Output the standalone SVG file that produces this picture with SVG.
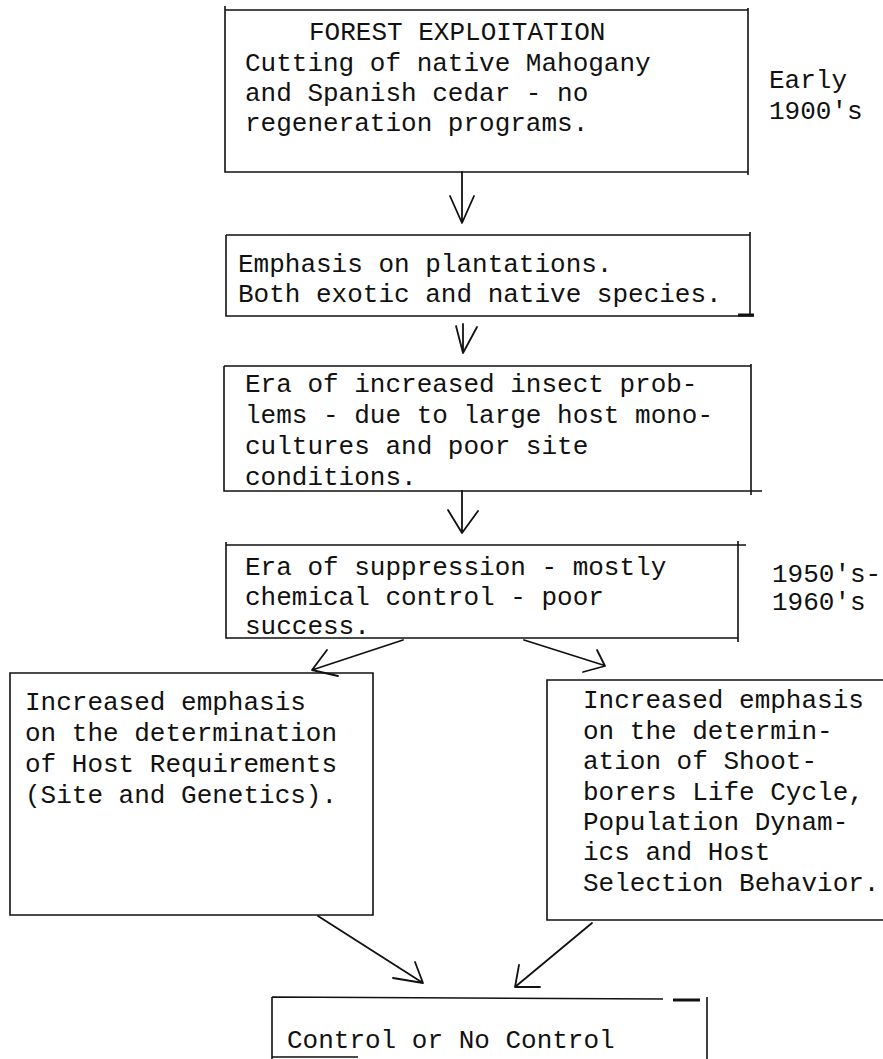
<svg xmlns="http://www.w3.org/2000/svg" width="883" height="1059" viewBox="0 0 883 1059">
  <style>
    .box { fill: none; stroke: #111; stroke-width: 1.6; }
    .txt { font-family: "Liberation Mono", "Courier New", monospace; font-size: 26px; fill: #111; }
    .conn { fill: none; stroke: #111; stroke-width: 1.8; stroke-linecap: round; stroke-linejoin: round; }
  </style>
  <rect width="883" height="1059" fill="#fff"/>

  <!-- flow nodes -->
  <g id="forest-exploitation">
    <path class="box" d="M225,10 L748,10 M225,6 L225,172 L748,172 M748,8 L748,175"/>
    <text class="txt" x="309" y="40">FOREST EXPLOITATION</text>
    <text class="txt" x="245" y="71">Cutting of native Mahogany</text>
    <text class="txt" x="245" y="101">and Spanish cedar - no</text>
    <text class="txt" x="245" y="131">regeneration programs.</text>
  </g>

  <g id="early-1900s">
    <text class="txt" x="769" y="88">Early</text>
    <text class="txt" x="769" y="119">1900's</text>
  </g>

  <g id="plantations">
    <path class="box" d="M226,235 L750,235 M226,235 L226,316 L754,316 M750,232 L750,316"/>
    <path d="M738,315 L754,315" stroke="#111" stroke-width="3"/>
    <text class="txt" x="238" y="272">Emphasis on plantations.</text>
    <text class="txt" x="238" y="302">Both exotic and native species.</text>
  </g>

  <g id="insect-problems">
    <path class="box" d="M224,366 L751,366 M224,366 L224,491 L762,491 M751,364 L751,495"/>
    <text class="txt" x="245" y="392">Era of increased insect prob-</text>
    <text class="txt" x="245" y="423">lems - due to large host mono-</text>
    <text class="txt" x="245" y="454">cultures and poor site</text>
    <text class="txt" x="245" y="485">conditions.</text>
  </g>

  <g id="suppression">
    <path class="box" d="M226,545 L746,545 M226,542 L226,638 L738,638 M738,541 L738,642"/>
    <text class="txt" x="245" y="575">Era of suppression - mostly</text>
    <text class="txt" x="245" y="605">chemical control - poor</text>
    <text class="txt" x="245" y="634">success.</text>
  </g>

  <g id="years-1950s-1960s">
    <text class="txt" x="772" y="582">1950's-</text>
    <text class="txt" x="772" y="610">1960's</text>
  </g>

  <g id="host-requirements">
    <path class="box" d="M10,673 L373,673 L373,915 L10,915 Z"/>
    <text class="txt" x="25" y="710">Increased emphasis</text>
    <text class="txt" x="25" y="741">on the determination</text>
    <text class="txt" x="25" y="772">of Host Requirements</text>
    <text class="txt" x="25" y="803">(Site and Genetics).</text>
  </g>

  <g id="shootborer-biology">
    <path class="box" d="M890,680 L547,680 L547,920 L890,920"/>
    <text class="txt" x="583" y="708">Increased emphasis</text>
    <text class="txt" x="583" y="739">on the determin-</text>
    <text class="txt" x="583" y="769">ation of Shoot-</text>
    <text class="txt" x="583" y="800">borers Life Cycle,</text>
    <text class="txt" x="583" y="830">Population Dynam-</text>
    <text class="txt" x="583" y="860">ics and Host</text>
    <text class="txt" x="583" y="891">Selection Behavior.</text>
  </g>

  <g id="control-decision">
    <path class="box" d="M272,997 L663,999 M272,997 L272,1062 M707,997 L707,1062 M272,1057 L358,1057"/>
    <path d="M673,1000 L700,1000" stroke="#111" stroke-width="3"/>
    <text class="txt" x="287" y="1048">Control or No Control</text>
  </g>

  <!-- connectors -->
  <g id="connectors">
    <path class="conn" d="M462,172 L462,222 M450,196 L462,223 L474,196"/>
    <path class="conn" d="M463,324 L463,351 M456,326 L463,353 L477,327"/>
    <path class="conn" d="M462,491 L462,530 M448,510 L462,533 L478,511"/>
    <path class="conn" d="M403,640 L312,670 M327,650 L312,670 L338,676"/>
    <path class="conn" d="M524,640 L603,665 M597,650 L605,666 L583,672"/>
    <path class="conn" d="M318,916 L423,983 M415,962 L423,983 L393,978"/>
    <path class="conn" d="M592,923 L515,987 M519,965 L515,987 L540,987"/>
  </g>
</svg>
